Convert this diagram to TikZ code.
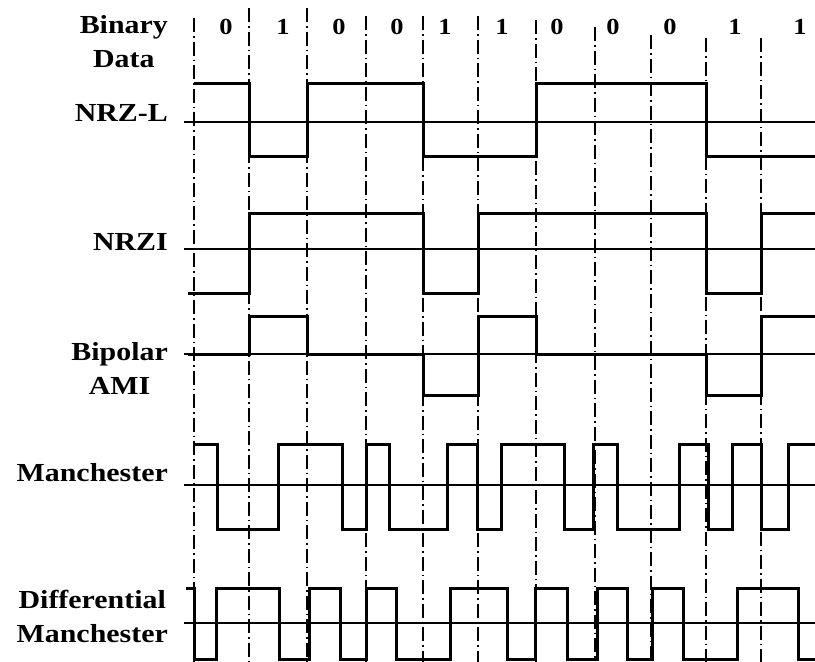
\documentclass[tikz,border=0pt]{standalone}
\usepackage{fontspec}
\setmainfont{Liberation Serif}[FakeStretch=1.15]
\usepackage{tikz}

\begin{document}
\begin{tikzpicture}[x=1pt,y=-1pt,
  wave/.style={line width=3pt},
  axis/.style={line width=1.1pt},
  clk/.style={line width=1.3pt,dash pattern=on 14pt off 4pt on 1.5pt off 4pt},
  lbl/.style={font=\fontsize{26}{34}\selectfont\bfseries,align=center,anchor=east,inner sep=0pt},
  bit/.style={font=\fontsize{23}{26}\selectfont\bfseries,inner sep=0pt}]
  \useasboundingbox (0,0) rectangle (815,662);
  % bit boundaries
  \foreach \x/\t in {194/18,249/8,307/8,366/16,423/16,478/16,536/20,595/27,651/35,706/38,761/38}{
    \draw[clk] (\x,\t) -- (\x,662);
  }
  % data bits
  \foreach \x/\b [count=\i] in {226/0,283/1,339/0,397/0,445/1,502/1,557/0,613/0,670/0,735/1,800/1}{
    \node[bit] (b\i) at (\x,27){\b};
  }
  % zero lines
  \foreach \y in {122,249,354,485,623}{
    \draw[axis] (184,\y) -- (815,\y);
  }
  \node[lbl] (lData) at (168,42){Binary\\Data};
  \node[lbl] (lNRZL) at (168,113){NRZ-L};
  \node[lbl] (lNRZI) at (168,242){NRZI};
  \node[lbl] (lAMI) at (168,368){Bipolar\\AMI};
  \node[lbl] (lMan) at (168,473){Manchester};
  \node[lbl] (lDiff) at (168,616){Differential\\Manchester};
  % NRZ-L
  \draw[wave] (194,83) foreach \x/\y in {249/156,307/83,423/156,536/83,706/156,815/156}{ -| (\x,\y) };
  % NRZI
  \draw[wave] (188,293) foreach \x/\y in {249/213,423/293,478/213,706/293,761/213,815/213}{ -| (\x,\y) };
  % Bipolar AMI
  \draw[wave] (188,354) foreach \x/\y in {249/316,307/354,423/395,478/316,536/354,706/395,761/316,815/316}{ -| (\x,\y) };
  % Manchester
  \draw[wave] (194,444) foreach \x/\y in {217/529,278/444,342/529,366/444,389/529,447/444,477/529,501/444,564/529,593/444,617/529,679/444,708/529,732/444,761/529,788/444,815/444}{ -| (\x,\y) };
  % Differential Manchester
  \draw[wave] (186,588) foreach \x/\y in {194/659,216/588,279/659,309/588,340/659,366/588,396/659,450/588,507/659,535/588,567/659,597/588,627/659,652/588,683/659,737/588,798/659,815/659}{ -| (\x,\y) };
\end{tikzpicture}
\end{document}
